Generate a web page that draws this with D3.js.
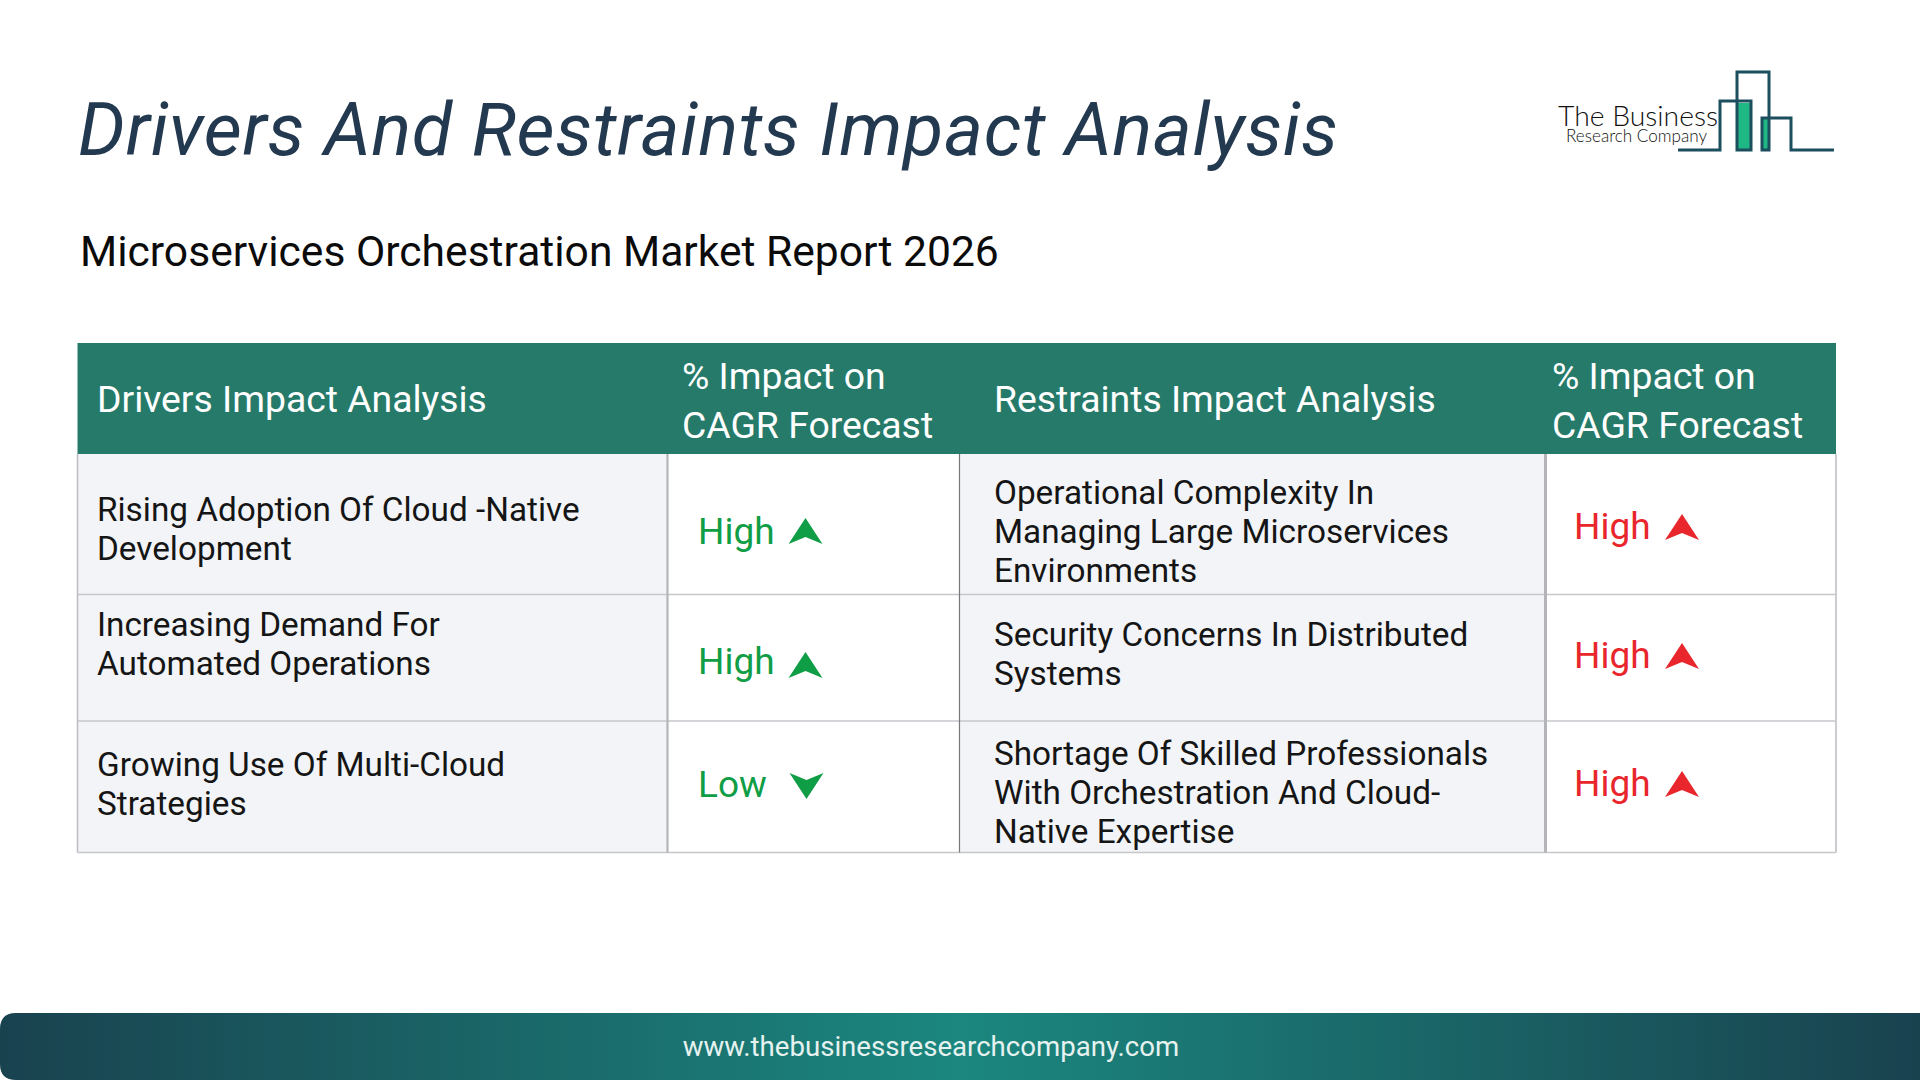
<!DOCTYPE html>
<html>
<head>
<meta charset="utf-8">
<title>Drivers And Restraints Impact Analysis</title>
<script src="https://cdn.jsdelivr.net/npm/d3@7"></script>
<style>
    html, body { margin: 0; padding: 0; background: #fff; }
    svg { display: block; }
    text { font-family: Roboto, sans-serif; }
</style>
</head>
<body>
<div id="chart"></div>
<script>
// Table content
var titleText = "Drivers And Restraints Impact Analysis";
var subtitleText = "Microservices Orchestration Market Report 2026";
var footerText = "www.thebusinessresearchcompany.com";

var headers = [
    ["Drivers Impact Analysis"],
    ["% Impact on", "CAGR Forecast"],
    ["Restraints Impact Analysis"],
    ["% Impact on", "CAGR Forecast"]
];
var drivers = [
    ["Rising Adoption Of Cloud -Native", "Development"],
    ["Increasing Demand For", "Automated Operations"],
    ["Growing Use Of Multi-Cloud", "Strategies"]
];
var driverImpact = ["High", "High", "Low"];
var restraints = [
    ["Operational Complexity In", "Managing Large Microservices", "Environments"],
    ["Security Concerns In Distributed", "Systems"],
    ["Shortage Of Skilled Professionals", "With Orchestration And Cloud-", "Native Expertise"]
];
var restraintImpact = ["High", "High", "High"];

// Layout
var width = 1920, height = 1080;
var colEdges = [77.5, 667.5, 959.5, 1545.5, 1836];
var rowEdges = [343, 454, 594.5, 721, 852.5];
var lineStep = 39.2;

var x = d3.scaleLinear().domain(d3.range(colEdges.length)).range(colEdges);
var y = d3.scaleLinear().domain(d3.range(rowEdges.length)).range(rowEdges);

var svg = d3.select("#chart").append("svg")
    .attr("width", width)
    .attr("height", height);

var defs = svg.append("defs");
var grad = defs.append("linearGradient").attr("id", "footer_grad");
grad.append("stop").attr("offset", "0%").attr("stop-color", "#19424f");
grad.append("stop").attr("offset", "50%").attr("stop-color", "#1b877e");
grad.append("stop").attr("offset", "100%").attr("stop-color", "#19424f");

// Title
svg.append("text")
    .attr("x", 78).attr("y", 155)
    .attr("font-size", 74)
    .attr("font-style", "italic")
    .attr("letter-spacing", 0.65)
    .attr("fill", "#23394f")
    .text(titleText);

svg.append("text")
    .attr("x", 80).attr("y", 266)
    .attr("font-size", 42.6)
    .attr("fill", "#0b0b0b")
    .text(subtitleText);

// Logo
var logo = svg.append("g").attr("class", "logo");
var logoLine = d3.line();
logo.selectAll("rect")
    .data([[1738, 103, 12, 46], [1763, 119, 5, 30]])
    .enter()
    .append("rect")
    .attr("x", function (d) { return d[0]; })
    .attr("y", function (d) { return d[1]; })
    .attr("width", function (d) { return d[2]; })
    .attr("height", function (d) { return d[3]; })
    .attr("fill", "#1fb784");
logo.selectAll("path")
    .data([
        [[1678, 150], [1720, 150], [1720, 101], [1751, 101], [1751, 150], [1737, 150], [1737, 72], [1769, 72], [1769, 150], [1762, 150], [1762, 118], [1791, 118], [1791, 150], [1834, 150]]
    ])
    .enter()
    .append("path")
    .attr("d", logoLine)
    .attr("fill", "none")
    .attr("stroke", "#1c4f5e")
    .attr("stroke-width", 3);
logo.append("text")
    .attr("x", 1558).attr("y", 126)
    .attr("font-size", 28.3)
    .attr("font-weight", 300)
    .style("font-family", "Lato, sans-serif")
    .attr("fill", "#111")
    .text("The Business");
logo.append("text")
    .attr("x", 1566).attr("y", 142)
    .attr("font-size", 17.1)
    .attr("font-weight", 300)
    .style("font-family", "Lato, sans-serif")
    .attr("fill", "#111")
    .text("Research Company");

// Cell backgrounds
[0, 2].forEach(function (c) {
    svg.append("rect")
        .attr("x", x(c)).attr("y", y(1))
        .attr("width", x(c + 1) - x(c))
        .attr("height", y(4) - y(1))
        .attr("fill", "#f2f4f7");
});

// Header band
svg.append("rect")
    .attr("x", x(0)).attr("y", y(0))
    .attr("width", x(4) - x(0))
    .attr("height", y(1) - y(0))
    .attr("fill", "#267a6a");

// Grid lines
svg.selectAll("line.row")
    .data([2, 3, 4])
    .enter()
    .append("line")
    .attr("class", "row")
    .attr("x1", x(0)).attr("x2", x(4))
    .attr("y1", function (d) { return y(d); })
    .attr("y2", function (d) { return y(d); })
    .attr("stroke", "#c6c7cb")
    .attr("stroke-width", 1.6);

var colStyle = [
    { stroke: "#bcbdc1", w: 1.5 },
    { stroke: "#b4b5b9", w: 2.2 },
    { stroke: "#77787c", w: 1.2 },
    { stroke: "#b4b5b9", w: 3 },
    { stroke: "#c6c7cb", w: 1.8 }
];
svg.selectAll("line.col")
    .data(colStyle)
    .enter()
    .append("line")
    .attr("class", "col")
    .attr("x1", function (d, i) { return x(i); })
    .attr("x2", function (d, i) { return x(i); })
    .attr("y1", y(1))
    .attr("y2", y(4))
    .attr("stroke", function (d) { return d.stroke; })
    .attr("stroke-width", function (d) { return d.w; });

// Draw lines of a cell, first baseline given
function DrawLines(lines, px, py, size, color, step) {
    lines.forEach(function (s, i) {
        svg.append("text")
            .attr("x", px)
            .attr("y", py + i * step)
            .attr("font-size", size)
            .attr("fill", color)
            .text(s);
    });
}

// Header text
var headerX = [97, 682, 994, 1552];
var headerY = [412, 389, 412, 389];
headers.forEach(function (h, i) {
    DrawLines(h, headerX[i], headerY[i], 37.35, "#ffffff", 49);
});

// Body text
var driverY = [521, 636, 776];
var restraintY = [504, 646, 765];
drivers.forEach(function (d, i) {
    DrawLines(d, 97, driverY[i], 33.3, "#151515", lineStep);
});
restraints.forEach(function (d, i) {
    DrawLines(d, 994, restraintY[i], 33.3, "#151515", lineStep);
});

// Impact cells with arrow marks
var arrowUp = [[0, -13], [17, 13], [0, 6], [-17, 13]];
var arrowDown = [[0, 13], [17, -13], [0, -6], [-17, -13]];

function DrawImpact(values, textX, arrowX, textYs, arrowYs, color) {
    var g = svg.append("g");
    g.selectAll("text")
        .data(values)
        .enter()
        .append("text")
        .attr("x", textX)
        .attr("y", function (d, i) { return textYs[i]; })
        .attr("font-size", 37)
        .attr("fill", color)
        .text(function (d) { return d; });
    g.selectAll("path")
        .data(values)
        .enter()
        .append("path")
        .attr("transform", function (d, i) {
            return "translate(" + (arrowX + (d === "Low" ? 1 : 0)) + "," + arrowYs[i] + ")";
        })
        .attr("d", function (d) { return d3.line()(d === "Low" ? arrowDown : arrowUp) + "Z"; })
        .attr("fill", color);
}

DrawImpact(driverImpact, 698, 805.5, [544, 674, 797], [531, 665, 786], "#0f9d45");
DrawImpact(restraintImpact, 1574, 1682, [539, 668, 796], [527, 656, 784], "#e8262c");

// Footer
svg.append("path")
    .attr("d", function () {
        var r = 16, top = 1013, bottom = 1080;
        var p = d3.path();
        p.moveTo(width, top);
        p.lineTo(r, top);
        p.quadraticCurveTo(0, top, 0, top + r);
        p.lineTo(0, bottom - r);
        p.quadraticCurveTo(0, bottom, r, bottom);
        p.lineTo(width, bottom);
        p.closePath();
        return p.toString();
    })
    .attr("fill", "url(#footer_grad)");

svg.append("text")
    .attr("x", 931).attr("y", 1056)
    .attr("text-anchor", "middle")
    .attr("font-size", 27.6)
    .attr("fill", "#e6f2f0")
    .text(footerText);
</script>
</body>
</html>
